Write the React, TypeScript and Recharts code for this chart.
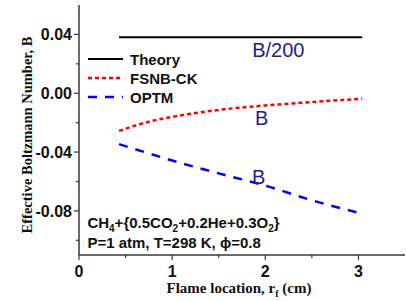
import React from "react"
import {
  Legend,
  Line,
  LineChart,
  ReferenceDot,
  XAxis,
  YAxis,
} from "recharts"

if (typeof document !== "undefined") document.body.style.margin = "0"

// values: B versus flame location r_f (cm)
const seriesNames = ["Theory", "FSNB-CK", "OPTM"]
const theoryX = [0.43, 3.04]
const theoryB = [0.038, 0.038]
const fsnbX = [0.43, 0.72, 1.08, 1.44, 2.0, 2.5, 3.04]
const fsnbB = [-0.0256, -0.0198, -0.0152, -0.0118, -0.0083, -0.006, -0.0037]
const optmX = [0.43, 1.08, 1.5, 2.0, 2.5, 3.03]
const optmB = [-0.0346, -0.0472, -0.0545, -0.0628, -0.0728, -0.0817]

const xTicks = [0, 0.5, 1, 1.5, 2, 2.5, 3]
const yTicks = [-0.1, -0.08, -0.06, -0.04, -0.02, 0, 0.02, 0.04]

const annotations = [
  { x: 2.14, y: 0.0293, text: "B/200" },
  { x: 1.96, y: -0.017, text: "B" },
  { x: 1.93, y: -0.057, text: "B" },
]

const theory = theoryX.map((x, i) => ({ x, b: theoryB[i] }))
const fsnb = fsnbX.map((x, i) => ({ x, b: fsnbB[i] }))
const optm = optmX.map((x, i) => ({ x, b: optmB[i] }))

const AXIS = "#383838"
const SANS = "Liberation Sans, Arial, sans-serif"
const SERIF = "Liberation Serif, Times New Roman, serif"
const NAVY = "#1e1e8c"

const XTick = (props: any) => {
  const { x, y, payload } = props
  const major = Number.isInteger(payload.value)
  return (
    <g>
      <line x1={x} x2={x} y1={y} y2={y + (major ? 5 : 3)} stroke={AXIS} strokeWidth={1.2} />
      {major && (
        <text x={x} y={y + 22} textAnchor="middle" fontFamily={SANS} fontWeight="bold" fontSize={16} fill="#111">
          {payload.value}
        </text>
      )}
    </g>
  )
}

const YTick = (props: any) => {
  const { x, y, payload } = props
  const major = Math.round(payload.value * 100) % 4 === 0
  return (
    <g>
      <line x1={x - (major ? 5 : 3)} x2={x} y1={y} y2={y} stroke={AXIS} strokeWidth={1.2} />
      {major && (
        <text x={x - 7} y={y + 6} textAnchor="end" fontFamily={SANS} fontWeight="bold" fontSize={16} fill="#111">
          {payload.value.toFixed(2)}
        </text>
      )}
    </g>
  )
}

// tiny inward ticks on the top and right frame
const TopTick = (props: any) => (
  <line x1={props.x} x2={props.x} y1={props.y} y2={props.y + 2} stroke={AXIS} strokeWidth={1.2} />
)
const RightTick = (props: any) => (
  <line x1={props.x - 2} x2={props.x} y1={props.y} y2={props.y} stroke={AXIS} strokeWidth={1.2} />
)

const renderLegend = () => (
  <svg width={130} height={60} style={{ overflow: "visible" }}>
    <line x1={2} x2={37} y1={9} y2={9} stroke="#000" strokeWidth={2} />
    <line x1={2} x2={37} y1={28} y2={28} stroke="#ff0000" strokeWidth={2.5} strokeDasharray="4 3" />
    <line x1={2} x2={37} y1={47} y2={47} stroke="#0000ff" strokeWidth={2.5} strokeDasharray="9 8" />
    {seriesNames.map((n, i) => (
      <text key={n} x={44} y={14.5 + i * 19} fontFamily={SANS} fontWeight="bold" fontSize={15} fill="#111">
        {n}
      </text>
    ))}
  </svg>
)

const Conditions = (props: any) => {
  const { x, y } = props.viewBox
  const sub = { fontSize: 10 }
  return (
    <text x={x} y={y} fontFamily={SANS} fontWeight="bold" fontSize={15} fill="#111">
      <tspan>CH</tspan>
      <tspan dy={4} {...sub}>4</tspan>
      <tspan dy={-4}>+{"{"}0.5CO</tspan>
      <tspan dy={4} {...sub}>2</tspan>
      <tspan dy={-4}>+0.2He+0.3O</tspan>
      <tspan dy={4} {...sub}>2</tspan>
      <tspan dy={-4}>{"}"}</tspan>
      <tspan x={x} dy={19.5}>P=1 atm, T=298 K, ϕ=0.8</tspan>
    </text>
  )
}

export default function App() {
  return (
    <LineChart width={406} height={301} margin={{ top: 5, right: 1, left: 0, bottom: 0 }}>
      <XAxis
        dataKey="x"
        type="number"
        domain={[0, 3.5]}
        ticks={xTicks}
        interval={0}
        height={46}
        tickSize={0}
        tickMargin={0}
        tickLine={false}
        tick={<XTick />}
        axisLine={{ stroke: AXIS, strokeWidth: 1.5 }}
        allowDuplicatedCategory={false}
        label={(p: any) => (
          <text
            x={p.viewBox.x + p.viewBox.width / 2 - 3}
            y={p.viewBox.y + 38}
            textAnchor="middle"
            fontFamily={SERIF}
            fontWeight="bold"
            fontSize={15}
            fill="#111"
          >
            Flame location, r<tspan dy={4} fontSize={10}>f</tspan>
            <tspan dy={-4}> (cm)</tspan>
          </text>
        )}
      />
      <XAxis
        xAxisId="top"
        orientation="top"
        dataKey="x"
        type="number"
        domain={[0, 3.5]}
        ticks={xTicks}
        interval={0}
        height={0}
        tickSize={0}
        tickMargin={0}
        tickLine={false}
        tick={<TopTick />}
        axisLine={{ stroke: AXIS, strokeWidth: 1.5 }}
      />
      <YAxis
        type="number"
        domain={[-0.11, 0.06]}
        ticks={yTicks}
        interval={0}
        width={79}
        tickSize={0}
        tickMargin={0}
        tickLine={false}
        tick={<YTick />}
        axisLine={{ stroke: AXIS, strokeWidth: 1.5 }}
        label={(p: any) => {
          const cy = p.viewBox.y + p.viewBox.height / 2 + 5
          return (
            <text
              x={32}
              y={cy}
              transform={`rotate(-90 32 ${cy})`}
              textAnchor="middle"
              fontFamily={SERIF}
              fontWeight="bold"
              fontSize={14.5}
              fill="#111"
            >
              Effective Boltzmann Number, B
            </text>
          )
        }}
      />
      <YAxis
        yAxisId="right"
        orientation="right"
        type="number"
        domain={[-0.11, 0.06]}
        ticks={yTicks}
        interval={0}
        width={0}
        tickSize={0}
        tickMargin={0}
        tickLine={false}
        tick={<RightTick />}
        axisLine={{ stroke: AXIS, strokeWidth: 1.5 }}
      />
      <Legend
        layout="horizontal"
        verticalAlign="middle"
        align="center"
        content={renderLegend}
        wrapperStyle={{ left: 86, top: 50, width: 130, height: 60 }}
      />
      <Line data={theory} dataKey="b" name={seriesNames[0]} stroke="#000" strokeWidth={2} dot={false} isAnimationActive={false} />
      <Line
        data={fsnb}
        dataKey="b"
        name={seriesNames[1]}
        type="monotone"
        stroke="#ff0000"
        strokeWidth={2.5}
        strokeDasharray="4 3"
        dot={false}
        isAnimationActive={false}
      />
      <Line
        data={optm}
        dataKey="b"
        name={seriesNames[2]}
        type="monotone"
        stroke="#0000ff"
        strokeWidth={2.5}
        strokeDasharray="9 8"
        dot={false}
        isAnimationActive={false}
      />
      {annotations.map((a, i) => (
        <ReferenceDot
          key={i}
          x={a.x}
          y={a.y}
          r={0}
          fill="none"
          stroke="none"
          label={{ value: a.text, position: "center", fill: NAVY, fontSize: 20, fontFamily: SANS }}
        />
      ))}
      <ReferenceDot x={0.09} y={-0.0917} r={0} fill="none" stroke="none" label={<Conditions />} />
    </LineChart>
  )
}
